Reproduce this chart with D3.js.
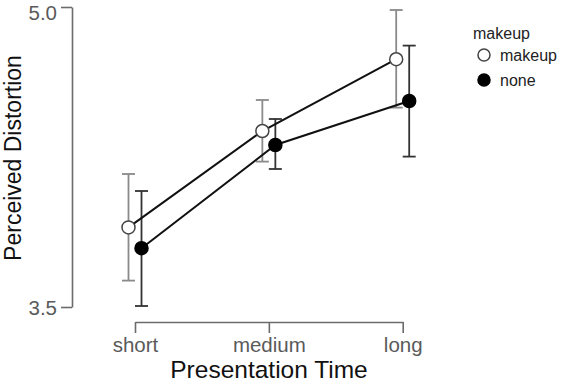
<!DOCTYPE html>
<html><head><meta charset="utf-8">
<script src="https://cdn.jsdelivr.net/npm/d3@7"></script>
<style>body{margin:0;background:#fff}svg{display:block}text{font-family:"Liberation Sans",Arial,sans-serif}</style>
</head><body>
<svg id="c" width="562" height="382"></svg>
<script>
const categories = ["short", "medium", "long"];
const seriesNames = ["makeup", "none"];
const makeupMean = [3.898, 4.38, 4.739];
const makeupLow  = [3.632, 4.227, 4.497];
const makeupHigh = [4.165, 4.535, 4.985];
const noneMean = [3.794, 4.31, 4.53];
const noneLow  = [3.505, 4.19, 4.252];
const noneHigh = [4.08, 4.44, 4.807];
const yTicks = [3.5, 5.0];

const svg = d3.select("#c");
const x = d3.scalePoint().domain(categories).range([135, 402.7]);
const y = d3.scaleLinear().domain([3.5, 5.0]).range([307, 7]);

const series = [
  {name: seriesNames[0], mean: makeupMean, low: makeupLow, high: makeupHigh, off: -6.5, fill: "#fff", stroke: "#444", err: "#8a8a8a"},
  {name: seriesNames[1], mean: noneMean, low: noneLow, high: noneHigh, off: 6.5, fill: "#000", stroke: "#000", err: "#333"}
];

// axes
const yAxis = svg.append("g").attr("transform", "translate(72,0)")
  .call(d3.axisLeft(y).tickValues(yTicks).tickFormat(d3.format(".1f")).tickSize(11).tickSizeOuter(0).tickPadding(4));
const xAxis = svg.append("g").attr("transform", "translate(0,322)")
  .call(d3.axisBottom(x).tickSize(11).tickSizeOuter(0).tickPadding(4));
[yAxis, xAxis].forEach(a => {
  a.selectAll("path,line").attr("stroke", "#6b6b6b").attr("stroke-width", 1.6);
  a.selectAll("text").attr("fill", "#5a5a5a").style("font-size", "20.5px");
});
yAxis.selectAll(".tick text").attr("dy", "0.35em");
yAxis.selectAll(".tick").filter(d => d === 5.0).select("text").attr("dy", "0.6em");

svg.append("text").attr("x", 269).attr("y", 378).attr("text-anchor", "middle")
  .style("font-size", "24.5px").attr("fill", "#111").text("Presentation Time");
svg.append("text").attr("transform", "translate(20.5,158) rotate(-90)").attr("text-anchor", "middle")
  .style("font-size", "23px").attr("fill", "#111").text("Perceived Distortion");

// error bars
series.forEach(s => {
  const g = svg.append("g");
  categories.forEach((c, i) => {
    const cx = x(c) + s.off;
    g.append("line").attr("x1", cx).attr("x2", cx).attr("y1", y(s.low[i])).attr("y2", y(s.high[i]))
      .attr("stroke", s.err).attr("stroke-width", 1.8);
    [s.low[i], s.high[i]].forEach(v => {
      g.append("line").attr("x1", cx - 6.5).attr("x2", cx + 6.5).attr("y1", y(v)).attr("y2", y(v))
        .attr("stroke", s.err).attr("stroke-width", 1.8);
    });
  });
});
// lines
series.forEach(s => {
  const line = d3.line().x((d, i) => x(categories[i]) + s.off).y(d => y(d));
  svg.append("path").attr("d", line(s.mean)).attr("fill", "none").attr("stroke", "#111").attr("stroke-width", 2);
});
// points
series.forEach(s => {
  svg.append("g").selectAll("circle").data(s.mean).join("circle")
    .attr("cx", (d, i) => x(categories[i]) + s.off).attr("cy", d => y(d)).attr("r", 6.5)
    .attr("fill", s.fill).attr("stroke", s.stroke).attr("stroke-width", 1.5);
});

// legend
const lg = svg.append("g");
lg.append("text").attr("x", 473).attr("y", 39).style("font-size", "16px").attr("fill", "#222").text("makeup");
series.forEach((s, i) => {
  const yy = 55 + i * 25;
  lg.append("circle").attr("cx", 484).attr("cy", yy).attr("r", 6).attr("fill", s.fill).attr("stroke", s.stroke).attr("stroke-width", 1.5);
  lg.append("text").attr("x", 500).attr("y", yy + 5.5).style("font-size", "16px").attr("fill", "#222").text(s.name);
});
</script>
</body></html>
